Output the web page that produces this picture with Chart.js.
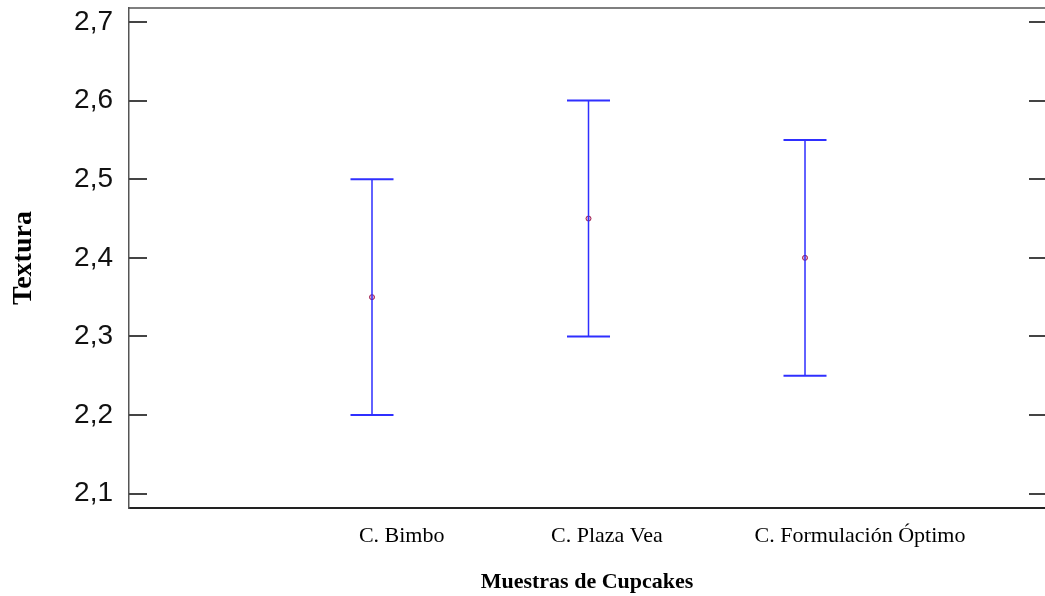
<!DOCTYPE html>
<html>
<head>
<meta charset="utf-8">
<script src="https://cdn.jsdelivr.net/npm/chart.js@4.4.1/dist/chart.umd.min.js"></script>
<style>
  html, body { margin: 0; padding: 0; background: #ffffff; overflow: hidden; }
  #wrap { width: 1045px; height: 596px; }
</style>
</head>
<body>
<div id="wrap"><canvas id="c" width="1045" height="596"></canvas></div>
<script>
// ---- data ----
const categories = ['C. Bimbo', 'C. Plaza Vea', 'C. Formulación Óptimo'];
const means = [2.35, 2.45, 2.40];
const lows  = [2.20, 2.30, 2.25];
const highs = [2.50, 2.60, 2.55];
const yTickValues = [2.1, 2.2, 2.3, 2.4, 2.5, 2.6, 2.7];

// ---- layout (not data) ----
const X_MIN = -0.1224, X_MAX = 4.1085;
const Y_MIN = 2.0818, Y_MAX = 2.7178;
const labelAnchors = [1.137, 2.085, 3.254];

const errData = [];
categories.forEach((c, i) => {
  errData.push({ x: i + 1, y: lows[i] });
  errData.push({ x: i + 1, y: highs[i] });
  errData.push({ x: i + 1, y: null });
});
const meanData = categories.map((c, i) => ({ x: i + 1, y: means[i] }));

const framePlugin = {
  id: 'frame',
  afterDraw(chart) {
    const { ctx, chartArea: a, scales } = chart;
    const ys = scales.y;
    ctx.save();
    ctx.strokeStyle = '#555555';
    ctx.lineWidth = 1.5;
    ctx.beginPath();
    ctx.moveTo(a.left, a.top);
    ctx.lineTo(a.right, a.top);
    ctx.stroke();
    ctx.strokeStyle = '#444444';
    ctx.lineWidth = 2;
    ys.ticks.forEach(t => {
      const py = Math.round(ys.getPixelForValue(t.value));
      ctx.beginPath();
      ctx.moveTo(a.left, py);
      ctx.lineTo(a.left + 18, py);
      ctx.moveTo(a.right - 16, py);
      ctx.lineTo(a.right, py);
      ctx.stroke();
    });
    ctx.restore();
  }
};

new Chart(document.getElementById('c'), {
  type: 'scatter',
  data: {
    datasets: [
      {
        data: errData,
        showLine: true,
        spanGaps: false,
        borderColor: '#2f2fff',
        borderWidth: 1.5,
        pointStyle: 'line',
        pointRadius: 21.5,
        pointBorderColor: '#2f2fff',
        pointBorderWidth: 2,
        pointHoverRadius: 21.5
      },
      {
        data: meanData,
        showLine: false,
        pointStyle: 'circle',
        pointRadius: 2.5,
        pointBorderWidth: 1,
        pointBorderColor: '#9b1b4a',
        pointBackgroundColor: '#f0b8cc'
      }
    ]
  },
  options: {
    responsive: false,
    animation: false,
    events: [],
    layout: { autoPadding: false, padding: { top: 8, right: 0, left: 0, bottom: 0 } },
    plugins: { legend: { display: false }, tooltip: { enabled: false } },
    scales: {
      x: {
        type: 'linear',
        position: 'bottom',
        min: X_MIN,
        max: X_MAX,
        afterBuildTicks(scale) {
          scale.ticks = labelAnchors.map(v => ({ value: v }));
        },
        afterFit(scale) {
          scale.height = 88;
          scale.paddingLeft = 0;
          scale.paddingRight = 0;
        },
        grid: { display: false, drawTicks: false },
        border: { display: true, color: '#222222', width: 2 },
        ticks: {
          autoSkip: false,
          maxRotation: 0,
          padding: 15,
          color: '#000000',
          font: { family: '"Liberation Serif", "Times New Roman", serif', size: 22 },
          callback: (v, i) => categories[i]
        },
        title: {
          display: true,
          text: 'Muestras de Cupcakes',
          color: '#000000',
          padding: { top: 0, bottom: 0 },
          font: { family: '"Liberation Serif", "Times New Roman", serif', size: 22, weight: 'bold' }
        }
      },
      y: {
        type: 'linear',
        position: 'left',
        min: Y_MIN,
        max: Y_MAX,
        afterBuildTicks(scale) {
          scale.ticks = yTickValues.map(v => ({ value: v }));
        },
        afterFit(scale) {
          scale.width = 129;
          scale.paddingTop = 0;
          scale.paddingBottom = 0;
        },
        grid: { display: false, drawTicks: false },
        border: { display: true, color: '#555555', width: 1.5 },
        ticks: {
          padding: 16,
          color: '#111111',
          font: { family: '"Liberation Sans", Arial, sans-serif', size: 28 },
          callback: v => Number(v).toFixed(1).replace('.', ',')
        },
        title: {
          display: true,
          text: 'Textura',
          color: '#000000',
          padding: { top: 7, bottom: 0 },
          font: { family: '"Liberation Serif", "Times New Roman", serif', size: 28, weight: 'bold' }
        }
      }
    }
  },
  plugins: [framePlugin]
});
</script>
</body>
</html>
